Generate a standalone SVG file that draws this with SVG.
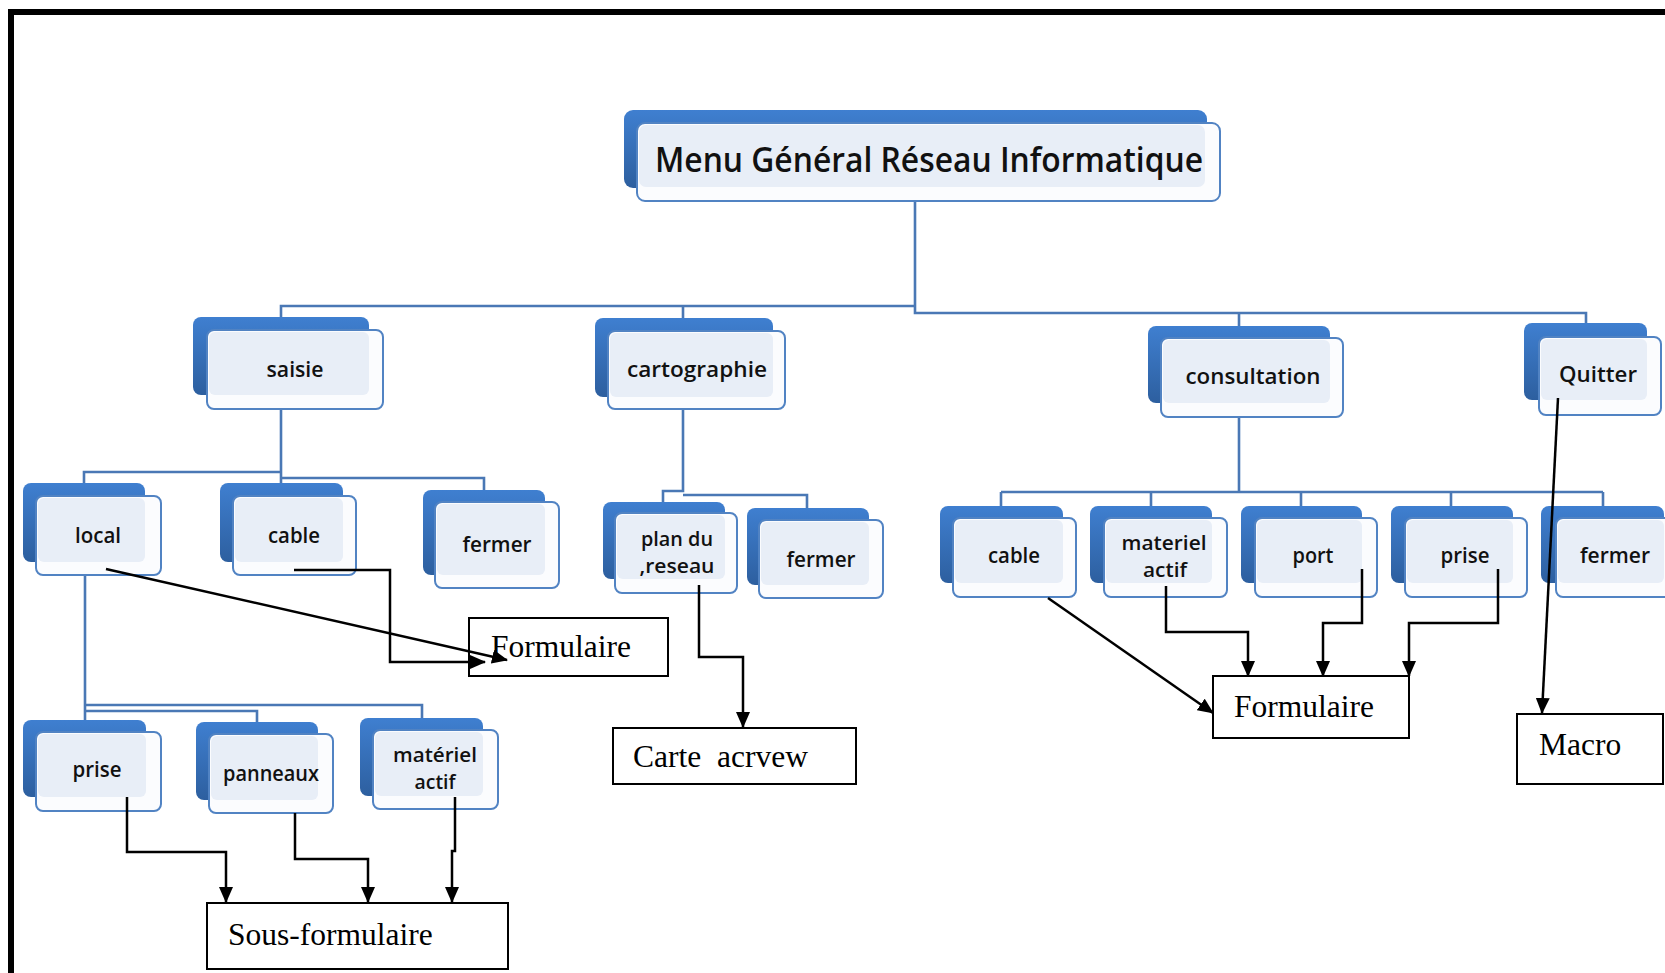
<svg xmlns="http://www.w3.org/2000/svg" width="1665" height="973" viewBox="0 0 1665 973">
<style>
.back{fill:url(#gBack)}
.front{fill:#fbfcfe;stroke:#5183c3;stroke-width:2}
.inner{fill:#e8eef7}
.nt{font-family:"Open Sans","Liberation Sans",sans-serif;font-weight:600;font-size:22px;fill:#111;text-anchor:middle}
.nt2{font-family:"Open Sans","Liberation Sans",sans-serif;font-weight:600;font-size:19.5px;fill:#111;text-anchor:middle}
.tt{font-family:"Open Sans","Liberation Sans",sans-serif;font-weight:600;font-size:34px;fill:#111;text-anchor:middle}
.tree{fill:none;stroke:#4a78b5;stroke-width:2.6}
.arr{fill:none;stroke:#000;stroke-width:2.5;marker-end:url(#ah)}
.box{fill:#fff;stroke:#000;stroke-width:2}
.st{font-family:"Liberation Serif","Times New Roman",serif;font-size:31.5px;fill:#000}
</style>
<defs>
<linearGradient id="gBack" x1="0" y1="0" x2="0" y2="1">
<stop offset="0" stop-color="#3f7fd0"/>
<stop offset="1" stop-color="#2d5f9f"/>
</linearGradient>
<marker id="ah" markerUnits="userSpaceOnUse" markerWidth="16" markerHeight="14" refX="15" refY="7" orient="auto">
<path d="M0,0 L16,7 L0,14 z" fill="#000"/>
</marker>
</defs>
<rect width="1665" height="973" fill="#fff"/>
<rect x="11" y="12" width="1720" height="1020" fill="none" stroke="#000" stroke-width="6"/>

<g id="connectors">
<path class="tree" d="M915,201 V313 H1586 V323"/>
<path class="tree" d="M915,306 H281 V317"/>
<path class="tree" d="M683,306 V318"/>
<path class="tree" d="M1239,313 V326"/>
<path class="tree" d="M281,409 V483 M281,472 H84 V483 M281,478 H484 V490"/>
<path class="tree" d="M683,409 V491 H663 V502 M683,495 H807 V508"/>
<path class="tree" d="M1239,417 V492 M1001,492 H1603 M1001,492 V506 M1151,492 V506 M1301,492 V506 M1451,492 V506 M1603,492 V506"/>
<path class="tree" d="M85,575 V720 M85,705 H422 V718 M85,711 H257 V722"/>
</g>

<g id="node-title">
<rect class="back" x="624" y="110" width="583" height="78" rx="9"/>
<rect class="front" x="637" y="123" width="583" height="78" rx="8"/>
<rect class="inner" x="639" y="125" width="566" height="62" rx="7"/>
<text class="tt" x="929" y="172" textLength="548" lengthAdjust="spacingAndGlyphs">Menu Général Réseau Informatique</text>
</g>
<g id="node-saisie">
<rect class="back" x="193" y="317" width="176" height="78" rx="8"/>
<rect class="front" x="207" y="330" width="176" height="79" rx="7"/>
<rect class="inner" x="209" y="332" width="160" height="63" rx="6"/>
<text class="nt" x="295" y="377" textLength="57" lengthAdjust="spacingAndGlyphs">saisie</text>
</g>
<g id="node-cartographie">
<rect class="back" x="595" y="318" width="178" height="79" rx="8"/>
<rect class="front" x="608" y="331" width="177" height="78" rx="7"/>
<rect class="inner" x="610" y="333" width="163" height="64" rx="6"/>
<text class="nt" x="697" y="377" textLength="140" lengthAdjust="spacingAndGlyphs">cartographie</text>
</g>
<g id="node-consultation">
<rect class="back" x="1148" y="326" width="182" height="77" rx="8"/>
<rect class="front" x="1161" y="338" width="182" height="79" rx="7"/>
<rect class="inner" x="1163" y="340" width="167" height="63" rx="6"/>
<text class="nt" x="1253" y="384" textLength="135" lengthAdjust="spacingAndGlyphs">consultation</text>
</g>
<g id="node-quitter">
<rect class="back" x="1524" y="323" width="123" height="77" rx="8"/>
<rect class="front" x="1539" y="337" width="122" height="78" rx="7"/>
<rect class="inner" x="1541" y="339" width="106" height="61" rx="6"/>
<text class="nt" x="1598" y="382" textLength="78" lengthAdjust="spacingAndGlyphs">Quitter</text>
</g>
<g id="node-local">
<rect class="back" x="23" y="483" width="122" height="79" rx="8"/>
<rect class="front" x="36" y="496" width="125" height="79" rx="7"/>
<rect class="inner" x="38" y="498" width="107" height="64" rx="6"/>
<text class="nt" x="98" y="543" textLength="46" lengthAdjust="spacingAndGlyphs">local</text>
</g>
<g id="node-cable-saisie">
<rect class="back" x="220" y="483" width="123" height="79" rx="8"/>
<rect class="front" x="233" y="496" width="123" height="79" rx="7"/>
<rect class="inner" x="235" y="498" width="108" height="64" rx="6"/>
<text class="nt" x="294" y="543" textLength="52" lengthAdjust="spacingAndGlyphs">cable</text>
</g>
<g id="node-fermer-saisie">
<rect class="back" x="423" y="490" width="122" height="85" rx="8"/>
<rect class="front" x="435" y="502" width="124" height="86" rx="7"/>
<rect class="inner" x="437" y="504" width="108" height="71" rx="6"/>
<text class="nt" x="497" y="552" textLength="69" lengthAdjust="spacingAndGlyphs">fermer</text>
</g>
<g id="node-plan">
<rect class="back" x="603" y="502" width="122" height="77" rx="8"/>
<rect class="front" x="615" y="513" width="122" height="80" rx="7"/>
<rect class="inner" x="617" y="515" width="108" height="64" rx="6"/>
<text class="nt2" x="677" y="546" textLength="72" lengthAdjust="spacingAndGlyphs">plan du</text>
<text class="nt2" x="677" y="573" textLength="75" lengthAdjust="spacingAndGlyphs">,reseau</text>
</g>
<g id="node-fermer-carto">
<rect class="back" x="747" y="508" width="122" height="77" rx="8"/>
<rect class="front" x="759" y="520" width="124" height="78" rx="7"/>
<rect class="inner" x="761" y="522" width="108" height="63" rx="6"/>
<text class="nt" x="821" y="567" textLength="69" lengthAdjust="spacingAndGlyphs">fermer</text>
</g>
<g id="node-prise-saisie">
<rect class="back" x="23" y="720" width="123" height="77" rx="8"/>
<rect class="front" x="36" y="732" width="125" height="79" rx="7"/>
<rect class="inner" x="38" y="734" width="108" height="63" rx="6"/>
<text class="nt" x="97" y="777" textLength="49" lengthAdjust="spacingAndGlyphs">prise</text>
</g>
<g id="node-panneaux">
<rect class="back" x="196" y="722" width="122" height="78" rx="8"/>
<rect class="front" x="209" y="734" width="124" height="79" rx="7"/>
<rect class="inner" x="211" y="736" width="107" height="64" rx="6"/>
<text class="nt" x="271" y="781" textLength="96" lengthAdjust="spacingAndGlyphs">panneaux</text>
</g>
<g id="node-materiel-saisie">
<rect class="back" x="360" y="718" width="123" height="78" rx="8"/>
<rect class="front" x="373" y="730" width="125" height="79" rx="7"/>
<rect class="inner" x="375" y="732" width="108" height="64" rx="6"/>
<text class="nt2" x="435" y="762" textLength="84" lengthAdjust="spacingAndGlyphs">matériel</text>
<text class="nt2" x="435" y="789" textLength="41" lengthAdjust="spacingAndGlyphs">actif</text>
</g>
<g id="node-cable-consult">
<rect class="back" x="940" y="506" width="123" height="77" rx="8"/>
<rect class="front" x="953" y="518" width="123" height="79" rx="7"/>
<rect class="inner" x="955" y="520" width="108" height="63" rx="6"/>
<text class="nt" x="1014" y="563" textLength="52" lengthAdjust="spacingAndGlyphs">cable</text>
</g>
<g id="node-materiel-consult">
<rect class="back" x="1090" y="506" width="122" height="77" rx="8"/>
<rect class="front" x="1104" y="518" width="123" height="79" rx="7"/>
<rect class="inner" x="1106" y="520" width="106" height="63" rx="6"/>
<text class="nt2" x="1164" y="550" textLength="85" lengthAdjust="spacingAndGlyphs">materiel</text>
<text class="nt2" x="1165" y="577" textLength="44" lengthAdjust="spacingAndGlyphs">actif</text>
</g>
<g id="node-port">
<rect class="back" x="1241" y="506" width="121" height="77" rx="8"/>
<rect class="front" x="1255" y="518" width="122" height="79" rx="7"/>
<rect class="inner" x="1257" y="520" width="105" height="63" rx="6"/>
<text class="nt" x="1313" y="563" textLength="41" lengthAdjust="spacingAndGlyphs">port</text>
</g>
<g id="node-prise-consult">
<rect class="back" x="1391" y="506" width="122" height="77" rx="8"/>
<rect class="front" x="1405" y="518" width="122" height="79" rx="7"/>
<rect class="inner" x="1407" y="520" width="106" height="63" rx="6"/>
<text class="nt" x="1465" y="563" textLength="49" lengthAdjust="spacingAndGlyphs">prise</text>
</g>
<g id="node-fermer-consult">
<rect class="back" x="1541" y="506" width="123" height="77" rx="8"/>
<rect class="front" x="1556" y="518" width="123" height="79" rx="7"/>
<rect class="inner" x="1558" y="520" width="106" height="63" rx="6"/>
<text class="nt" x="1615" y="563" textLength="70" lengthAdjust="spacingAndGlyphs">fermer</text>
</g>

<g id="box-formulaire-left">
<rect class="box" x="469" y="618" width="199" height="58"/>
<text class="st" x="491" y="657">Formulaire</text>
</g>
<g id="box-carte">
<rect class="box" x="613" y="728" width="243" height="56"/>
<text class="st" x="633" y="767" xml:space="preserve">Carte  acrvew</text>
</g>
<g id="box-sous-formulaire">
<rect class="box" x="207" y="903" width="301" height="66"/>
<text class="st" x="228" y="945">Sous-formulaire</text>
</g>
<g id="box-formulaire-right">
<rect class="box" x="1213" y="676" width="196" height="62"/>
<text class="st" x="1234" y="717">Formulaire</text>
</g>
<g id="box-macro">
<rect class="box" x="1517" y="714" width="146" height="70"/>
<text class="st" x="1539" y="755">Macro</text>
</g>

<g id="connectors-arrows">
<path class="arr" d="M294,570 H390 V662 H485"/>
<path class="arr" d="M106,569 L507,660"/>
<path class="arr" d="M699,585 V657 H743 V727"/>
<path class="arr" d="M127,797 V852 H226 V902"/>
<path class="arr" d="M295,813 V859 H368 V902"/>
<path class="arr" d="M455,797 V851 H452 V902"/>
<path class="arr" d="M1048,598 L1213,713"/>
<path class="arr" d="M1166,586 V632 H1248 V676"/>
<path class="arr" d="M1362,569 V623 H1323 V676"/>
<path class="arr" d="M1498,569 V623 H1409 V676"/>
<path class="arr" d="M1558,398 L1542,713"/>
</g>
</svg>
